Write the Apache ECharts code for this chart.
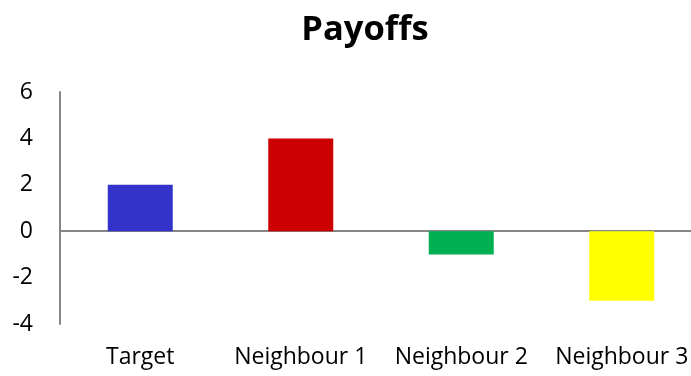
<!DOCTYPE html>
<html>
<head>
<meta charset="utf-8">
<script src="https://cdn.jsdelivr.net/npm/echarts@6/dist/echarts.min.js"></script>
<style>
  html, body { margin: 0; padding: 0; background: #fff; overflow: hidden; }
  /* plot area runs slightly past the right edge of the window */
  #chart { width: 702px; height: 376px; }
</style>
</head>
<body>
<div id="chart"></div>
<script>
// Payoff per player
const categories = ['Target', 'Neighbour 1', 'Neighbour 2', 'Neighbour 3'];
const payoffs = [2, 4, -1, -3];
const barColors = ['#3333CC', '#CC0000', '#00B050', '#FFFF00'];

const FONT = '"Open Sans", "Noto Sans", sans-serif';

const chart = echarts.init(document.getElementById('chart'));
chart.setOption({
  animation: false,
  backgroundColor: '#ffffff',
  title: {
    text: 'Payoffs',
    left: 360,
    top: 8,
    textAlign: 'center',
    textStyle: { fontFamily: FONT, fontWeight: 'bold', fontSize: 34.5, color: '#000' }
  },
  grid: { left: 60, top: 92, right: 0, height: 232, containLabel: false },
  xAxis: {
    type: 'category',
    data: categories,
    axisLine: { onZero: true, lineStyle: { color: '#868686', width: 2 } },
    axisTick: { show: false },
    axisLabel: {
      interval: 0,
      fontFamily: FONT,
      fontSize: 23,
      color: '#000',
      margin: 22
    }
  },
  yAxis: {
    type: 'value',
    min: -4,
    max: 6,
    interval: 2,
    axisLine: { show: true, lineStyle: { color: '#868686', width: 2 } },
    axisTick: { show: false },
    splitLine: { show: false },
    axisLabel: { fontFamily: FONT, fontSize: 23, color: '#000', margin: 27 }
  },
  series: [{
    type: 'bar',
    data: payoffs.map((v, i) => ({ value: v, itemStyle: { color: barColors[i] } })),
    barWidth: 65
  }]
});
</script>
</body>
</html>
